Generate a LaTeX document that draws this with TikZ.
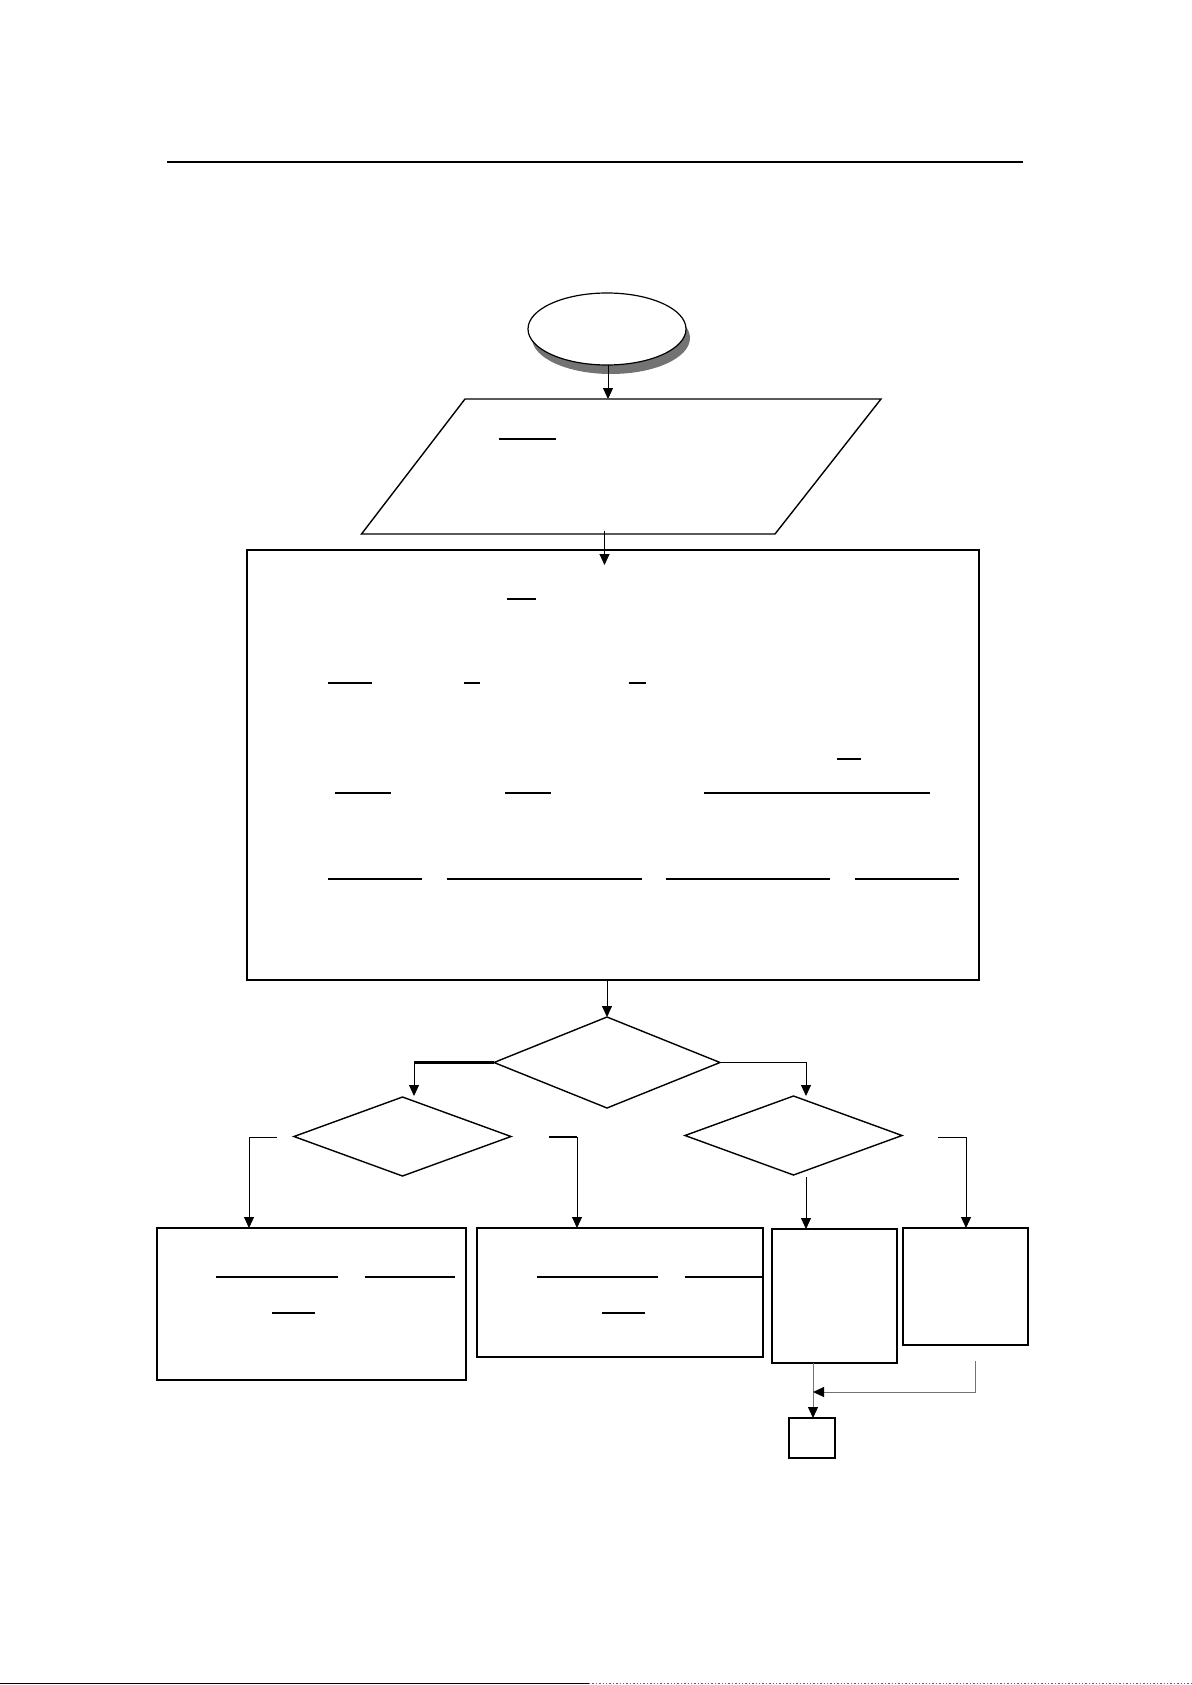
\documentclass[tikz,border=0pt]{standalone}
\usetikzlibrary{arrows.meta,shapes.geometric,shadows}
\begin{document}
\begin{tikzpicture}[x=1pt,y=-1pt,line join=miter,
  conn/.style={-{Triangle[length=11pt,width=10pt]},line width=1pt},
  graycon/.style={-{Triangle[length=11pt,width=10pt,color=black]},line width=1pt,draw=black!55},
  box/.style={draw,line width=1.6pt,inner sep=0pt,outer sep=0pt,fill=white},
  thickbox/.style={box,line width=2.6pt},
  dia/.style={draw,diamond,line width=1.4pt,inner sep=0pt,outer sep=0pt},
  uline/.style={line width=1.3pt}]
\useasboundingbox (0,0) rectangle (1191,1685);
% header rule and page bottom rule
\draw[line width=1.2pt] (167,162) -- (1023,162);
\draw[line width=1.4pt] (0,1683.5) -- (589,1683.5);
\draw[line width=1.4pt,black!60,dotted] (589,1683.5) -- (1191,1683.5);
% start ellipse with shadow
\node[ellipse,draw,line width=1.2pt,fill=white,minimum width=158pt,minimum height=72pt,inner sep=0pt,outer sep=0pt,
      drop shadow={shadow xshift=4pt,shadow yshift=-9pt,fill=black!55,opacity=1}] (start) at (607,329) {};
% parallelogram
\draw[line width=1.4pt] (465,399) -- (881,399) -- (775,534) -- (361.5,534) -- cycle;
\coordinate (pTop) at (608,399);
\coordinate (pBot) at (604.5,531);
\draw[uline] (498.5,439) -- (556,439);
% big process box
\node[box,minimum width=732pt,minimum height=430pt] (big) at (613,765) {};
\coordinate (bigIn) at (604.5,565);
\draw[uline] (507,599) -- (536,599);
\draw[uline] (328,683) -- (372,683) (463.5,683) -- (480,683) (628.5,683) -- (645.5,683);
\draw[uline] (837,759) -- (860.5,759);
\draw[uline] (335,793) -- (391,793) (505,793) -- (551,793) (703.5,793) -- (929.5,793);
\draw[uline] (328,879) -- (422,879) (446.5,879) -- (641.5,879) (666,879) -- (830,879) (855,879) -- (959,879);
% diamonds
\node[dia,minimum width=226pt,minimum height=91pt] (dmain) at (607,1062.5) {};
\node[dia,minimum width=217pt,minimum height=79pt] (dleft) at (402.5,1136.5) {};
\node[dia,minimum width=217pt,minimum height=79pt] (dright) at (793.5,1135.5) {};
% bottom boxes
\node[thickbox,minimum width=309pt,minimum height=152pt] (bA) at (311.5,1304) {};
\node[box,line width=2pt,minimum width=286pt,minimum height=129pt] (bB) at (620,1292.5) {};
\node[box,line width=1.5pt,minimum width=125pt,minimum height=134pt] (bC) at (834.5,1296) {};
\node[box,line width=1.5pt,minimum width=125pt,minimum height=117pt] (bD) at (965.5,1286.5) {};
\draw[line width=2.6pt] (bD.north west) -- (bD.north east) (bD.south west) -- (bD.south east);
\node[box,line width=1.5pt,minimum width=46pt,minimum height=40pt] (bE) at (812,1438) {};
\draw[uline] (216,1277) -- (338,1277) (365,1277) -- (455,1277) (272,1313) -- (315,1313);
\draw[uline] (537,1277) -- (658,1277) (685,1277) -- (762,1277) (601.5,1313) -- (645,1313);
% connectors
\draw[conn] (start.south -| pTop) -- (pTop);
\draw[conn] (pBot) -- (bigIn);
\draw[conn] (big.south -| dmain.north) -- (dmain.north);
\coordinate (lTurn) at (414,1062.5);
\draw[line width=2.6pt] (dmain.west) -- (lTurn);
\draw[conn] (lTurn) -- (414,1096);
\draw[conn] (dmain.east) -| (806,1096);
\coordinate (la) at (277,1137);
\draw[conn] (la) -| (bA.north -| 249,0);
\coordinate (lb) at (549,1137);
\draw[line width=2.4pt] (lb) -- (577,1137);
\draw[conn] (577,1137) -- (bB.north -| 577,0);
\coordinate (rc) at (806,1177);
\draw[conn] (rc) -- (bC.north -| 806,0);
\coordinate (rd) at (938,1137);
\draw[conn] (rd) -| (bD.north -| 966,0);
\draw[graycon] (bC.south -| 813,0) -- (bE.north -| 813,0);
\coordinate (dOut) at (975,1361);
\draw[graycon] (dOut) |- (813,1392);
\end{tikzpicture}
\end{document}
